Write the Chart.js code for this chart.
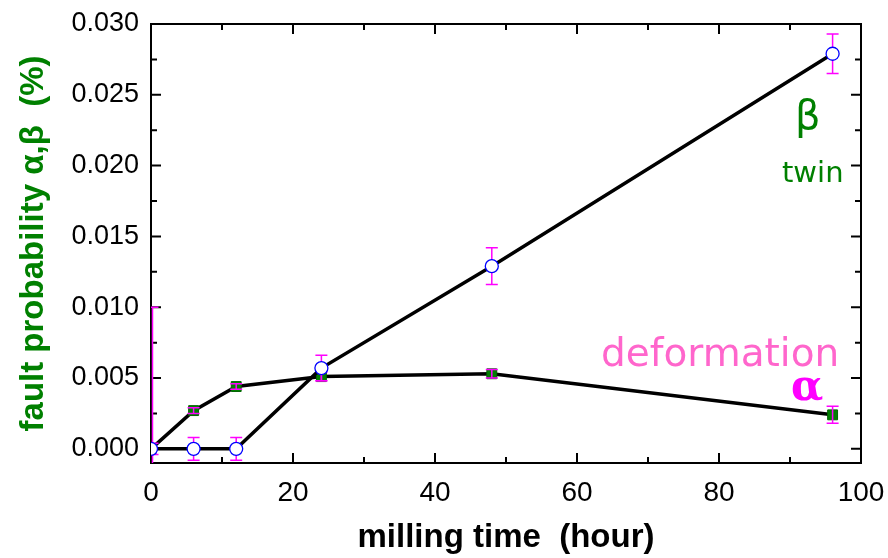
<!DOCTYPE html>
<html>
<head>
<meta charset="utf-8">
<script src="https://cdn.jsdelivr.net/npm/chart.js@4.4.1/dist/chart.umd.min.js"></script>
<style>
  html, body { margin: 0; padding: 0; background: #fff; }
</style>
</head>
<body>
<canvas id="c" width="888" height="558"></canvas>
<script>
// milling time (hour)
const hours = [0, 6, 12, 24, 48, 96];
// deformation fault probability alpha (%)
const alphaVals = [0, 0.0027, 0.0044, 0.0051, 0.0053, 0.0024];
const alphaErr  = [0.0004, 0.0002, 0.0002, 0.0003, 0.0003, 0.0006];
// twin fault probability beta (%)
const betaVals = [0, 0, 0, 0.0057, 0.0129, 0.0279];
const betaErr  = [0.010, 0.0008, 0.0008, 0.0009, 0.0013, 0.0014];

const xTicks = [0, 20, 40, 60, 80, 100];
const xMinor = [10, 30, 50, 70, 90];
const yTicks = [0, 0.005, 0.010, 0.015, 0.020, 0.025, 0.030];
const yMinor = [0.0025, 0.0075, 0.0125, 0.0175, 0.0225, 0.0275];

const toPts = vals => hours.map((h, i) => ({x: h, y: vals[i]}));

function drawErr(chart, vals, errs){
    const ctx = chart.ctx, xs = chart.scales.x, ys = chart.scales.y;
    const a = chart.chartArea;
    ctx.save();
    ctx.beginPath();
    ctx.rect(a.left, a.top, a.right - a.left + 16, a.bottom - a.top);
    ctx.clip();
    ctx.strokeStyle = "#ff00ff";
    ctx.lineWidth = 1.5;
    hours.forEach((h, i) => {
        const px = xs.getPixelForValue(h) + (h === 0 ? 1.5 : 0);
        const top = ys.getPixelForValue(vals[i] + errs[i]);
        const bot = ys.getPixelForValue(vals[i] - errs[i]);
        ctx.beginPath();
        ctx.moveTo(px, top); ctx.lineTo(px, bot);
        ctx.moveTo(px - 6, top); ctx.lineTo(px + 6, top);
        ctx.moveTo(px - 6, bot); ctx.lineTo(px + 6, bot);
        ctx.stroke();
    });
    ctx.restore();
}

const errPlugin = {
    id: "errBars",
    beforeDatasetDraw(chart, args){
        if (args.index === 1) drawErr(chart, betaVals, betaErr);
    },
    afterDatasetDraw(chart, args){
        if (args.index === 0) drawErr(chart, alphaVals, alphaErr);
    }
};

const framePlugin = {
    id: "frame",
    beforeDatasetsDraw(chart){
        const ctx = chart.ctx, a = chart.chartArea;
        const xs = chart.scales.x, ys = chart.scales.y;
        ctx.save();
        ctx.strokeStyle = "#000";
        ctx.lineWidth = 2;
        ctx.strokeRect(a.left, a.top, a.right - a.left, a.bottom - a.top);
        ctx.beginPath();
        const tx = (v, len) => {
            const p = xs.getPixelForValue(v);
            ctx.moveTo(p, a.bottom); ctx.lineTo(p, a.bottom - len);
            ctx.moveTo(p, a.top); ctx.lineTo(p, a.top + len);
        };
        const ty = (v, len) => {
            const p = ys.getPixelForValue(v);
            ctx.moveTo(a.left, p); ctx.lineTo(a.left + len, p);
            ctx.moveTo(a.right, p); ctx.lineTo(a.right - len, p);
        };
        xTicks.forEach(v => tx(v, 10));
        xMinor.forEach(v => tx(v, 6));
        yTicks.forEach(v => ty(v, 10));
        yMinor.forEach(v => ty(v, 6));
        ctx.stroke();
        ctx.restore();
    },
    afterDraw(chart){
        const ctx = chart.ctx;
        ctx.save();
        // labels inside the plot
        ctx.textAlign = "left";
        ctx.textBaseline = "alphabetic";
        ctx.fillStyle = "#008000";
        ctx.font = "40px 'DejaVu Sans'";
        ctx.fillText("β", 795, 129);
        ctx.font = "29px 'DejaVu Sans'";
        ctx.fillText("twin", 782, 182);
        ctx.fillStyle = "#ff66cc";
        ctx.font = "39px 'DejaVu Sans'";
        ctx.fillText("deformation", 601, 366);
        ctx.fillStyle = "#ff00ff";
        ctx.font = "bold 42px 'DejaVu Serif'";
        ctx.fillText("α", 791, 400);
        ctx.restore();
    }
};

new Chart(document.getElementById("c"), {
    type: "line",
    data: {
        datasets: [{
            label: "alpha",
            data: toPts(alphaVals),
            borderColor: "#000",
            borderWidth: 3.5,
            pointStyle: "rect",
            pointRadius: 7,
            pointBackgroundColor: "#008000",
            pointBorderColor: "#006400",
            pointBorderWidth: 1,
            order: 1
        }, {
            label: "beta",
            data: toPts(betaVals),
            borderColor: "#000",
            borderWidth: 3.5,
            pointStyle: "circle",
            pointRadius: 6.5,
            pointBackgroundColor: "#fff",
            pointBorderColor: "#0000ff",
            pointBorderWidth: 1.3,
            order: 0
        }]
    },
    options: {
        responsive: false,
        animation: false,
        layout: { padding: { top: 24, right: 27, left: 0, bottom: 0 } },
        plugins: { legend: { display: false }, tooltip: { enabled: false } },
        scales: {
            x: {
                type: "linear",
                min: 0, max: 100,
                afterBuildTicks: s => { s.ticks = xTicks.map(v => ({value: v})); },
                afterFit: s => { s.height = 95; s.paddingLeft = 0; s.paddingRight = 0; },
                grid: { display: false, drawTicks: false },
                border: { display: false },
                ticks: {
                    color: "#000",
                    padding: 13,
                    font: { family: "'Liberation Sans'", size: 28 }
                },
                title: {
                    display: true,
                    text: "milling time  (hour)",
                    color: "#000",
                    padding: { top: 8, bottom: 0 },
                    font: { family: "'Liberation Sans'", size: 33, weight: "bold" }
                }
            },
            y: {
                type: "linear",
                min: -0.001, max: 0.030,
                afterBuildTicks: s => { s.ticks = yTicks.map(v => ({value: v})); },
                afterFit: s => { s.width = 151; s.paddingTop = 0; s.paddingBottom = 0; },
                grid: { display: false, drawTicks: false },
                border: { display: false },
                ticks: {
                    color: "#000",
                    padding: 12,
                    callback: v => v.toFixed(3),
                    font: { family: "'Liberation Sans'", size: 27 }
                },
                title: {
                    display: true,
                    text: "fault probability α,β  (%)",
                    color: "#008000",
                    padding: { top: 14, bottom: 0 },
                    font: { family: "'Liberation Sans'", size: 33, weight: "bold" }
                }
            }
        }
    },
    plugins: [errPlugin, framePlugin]
});
</script>
</body>
</html>
